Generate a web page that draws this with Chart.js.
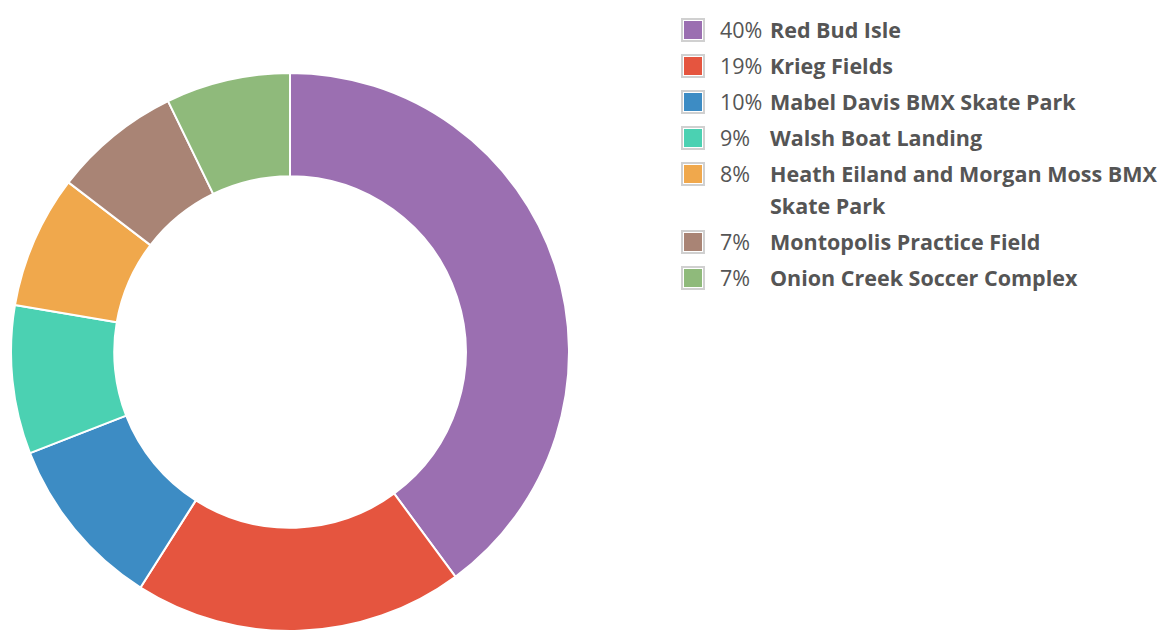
<!DOCTYPE html>
<html>
<head>
<meta charset="utf-8">
<script src="https://cdn.jsdelivr.net/npm/chart.js@4"></script>
<style>
html,body{margin:0;padding:0;background:#fff;overflow:hidden;width:1164px;height:631px;}
#wrap{position:absolute;left:10px;top:72px;width:560px;height:560px;}
#legend{position:absolute;left:681px;top:14px;font-family:"Open Sans",sans-serif;font-size:21.5px;color:#555;}
.row{display:flex;align-items:flex-start;line-height:32px;margin-bottom:4px;}
.box{width:20px;height:20px;border:2px solid #d0d0d0;box-sizing:content-box;margin-top:4px;flex:none;}
.box span{display:block;width:18px;height:18px;margin:1px;}
.pct{width:50px;margin-left:15px;flex:none;}
.name{font-weight:bold;width:400px;}
</style>
</head>
<body>
<div id="wrap"><canvas id="c"></canvas></div>
<div id="legend"></div>
<script>
const categories = ["Red Bud Isle","Krieg Fields","Mabel Davis BMX Skate Park","Walsh Boat Landing","Heath Eiland and Morgan Moss BMX Skate Park","Montopolis Practice Field","Onion Creek Soccer Complex"];
const values = [39.9,19.1,10.1,8.6,7.7,7.4,7.2];
const pctLabels = ["40%","19%","10%","9%","8%","7%","7%"];
const colors = ["#9b6fb1","#e5553f","#3d8cc4","#4bd1b2","#f0a84c","#a98475","#8fba7b"];

const leg = document.getElementById('legend');
categories.forEach((c,i)=>{
  const r=document.createElement('div');r.className='row';
  r.innerHTML='<div class="box"><span style="background:'+colors[i]+'"></span></div><div class="pct">'+pctLabels[i]+'</div><div class="name">'+c+'</div>';
  leg.appendChild(r);
});

new Chart(document.getElementById('c'),{
  type:'doughnut',
  data:{labels:categories,datasets:[{data:values,backgroundColor:colors,borderColor:'#ffffff',borderWidth:2}]},
  options:{
    responsive:true,maintainAspectRatio:false,animation:false,
    cutout:'63%',
    layout:{padding:0},
    plugins:{legend:{display:false},tooltip:{enabled:false}}
  }
});
</script>
</body>
</html>
